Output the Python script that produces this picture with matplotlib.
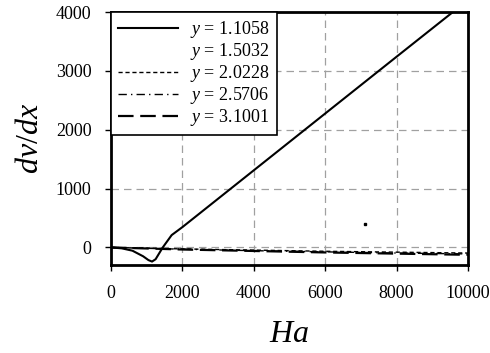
import matplotlib as mpl
mpl.use('Agg')
import matplotlib.pyplot as plt
from matplotlib.lines import Line2D
from matplotlib import rcParams

rcParams['font.family'] = 'serif'
rcParams['font.serif'] = ['Liberation Serif', 'DejaVu Serif']
rcParams['mathtext.fontset'] = 'custom'
rcParams['mathtext.rm'] = 'Liberation Serif'
rcParams['mathtext.it'] = 'Liberation Serif:italic'
rcParams['font.size'] = 13

# y = 1.1058
ha_1 = [0, 300, 600, 900, 1050, 1150, 1250, 1450, 1700, 2000, 4000, 6000, 8000, 9600]
dv_1 = [0, -15, -55, -150, -215, -240, -200, 0, 210, 345, 1310, 2275, 3240, 4010]
# y = 1.5032 (only one point visible)
ha_2 = [7115]
dv_2 = [390]
# y = 2.0228, 2.5706, 3.1001
ha_rest = [0, 2000, 4000, 6000, 8000, 10000]
dv_3 = [0, -25, -45, -65, -80, -95]
dv_4 = [0, -30, -55, -75, -95, -110]
dv_5 = [0, -35, -60, -85, -105, -125]

labels = ['1.1058', '1.5032', '2.0228', '2.5706', '3.1001']

fig = plt.figure(figsize=(4.9, 3.53), dpi=100)
ax = fig.add_axes([0.2265, 0.249, 0.7285, 0.717])

ax.plot(ha_1, dv_1, color='black', lw=1.5, label=r'$y$ = ' + labels[0])
ax.plot(ha_2, dv_2, 's', color='black', ms=1.8, label='_nolegend_')
ax.plot(ha_rest, dv_3, color='black', lw=1.0, dashes=(3, 2), label=r'$y$ = ' + labels[2])
ax.plot(ha_rest, dv_4, color='black', lw=1.0, dashes=(6, 3, 1, 3), label=r'$y$ = ' + labels[3])
ax.plot(ha_rest, dv_5, color='black', lw=1.6, dashes=(7, 3), label=r'$y$ = ' + labels[4])

handles, leg_labels = ax.get_legend_handles_labels()
handles.insert(1, Line2D([], [], linestyle='none'))
leg_labels.insert(1, r'$y$ = ' + labels[1])
leg = ax.legend(handles, leg_labels, loc='upper left', borderaxespad=0, fancybox=False,
                handlelength=3.3, handletextpad=0.7, borderpad=0.4,
                fontsize=13, labelspacing=0.05, framealpha=1)
leg.get_frame().set_edgecolor('black')
leg.get_frame().set_linewidth(1.2)

ax.set_xlim(0, 10000)
ax.set_ylim(-300, 4000)
ax.set_xticks([0, 2000, 4000, 6000, 8000, 10000])
ax.set_yticks([0, 1000, 2000, 3000, 4000])
ax.grid(True, color='#a0a0a0', linestyle=(0, (6, 4)), lw=0.9)
ax.set_axisbelow(True)
for s in ax.spines.values():
    s.set_linewidth(2)
ax.tick_params(direction='out', length=4, width=1, pad=10, labelsize=13)

ax.set_xlabel(r'$Ha$', fontsize=23, labelpad=13)
ax.set_ylabel(r'$dv/dx$', fontsize=23, labelpad=8)

fig.savefig('out.png', dpi=100)
